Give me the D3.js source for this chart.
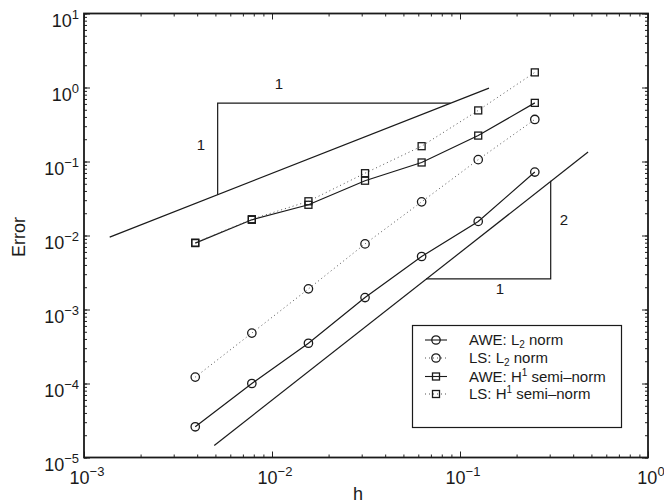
<!DOCTYPE html>
<html>
<head>
<meta charset="utf-8">
<script src="https://cdn.jsdelivr.net/npm/d3@7"></script>
<style>
  body { margin: 0; background: #fff; }
  svg { font-family: "Liberation Sans", Arial, sans-serif; }
  .tick text { display: none; }
  .axis path.domain { display: none; }
  .axis line { stroke: #222; stroke-width: 1; }
</style>
</head>
<body>
<svg width="664" height="503"></svg>
<script>
// mesh sizes h and errors
const hValues = [1/256, 1/128, 1/64, 1/32, 1/16, 1/8, 1/4];
const aweL2 = [2.6e-5, 1.0e-4, 3.5e-4, 1.45e-3, 5.2e-3, 1.55e-2, 7.2e-2];
const lsL2 = [1.22e-4, 4.8e-4, 1.9e-3, 7.7e-3, 2.85e-2, 0.106, 0.37];
const aweH1 = [7.9e-3, 1.63e-2, 2.6e-2, 5.5e-2, 9.7e-2, 0.224, 0.62];
const lsH1 = [8.0e-3, 1.66e-2, 2.9e-2, 6.95e-2, 0.161, 0.49, 1.6];

// reference slope lines and triangles (h, error)
const slope1Line = [[1.37e-3, 9.5e-3], [0.1426, 0.98]];
const slope1Tri = [[5.14e-3, 0.0355], [5.14e-3, 0.614], [0.089, 0.614]];
const slope2Line = [[4.93e-3, 1.45e-5], [0.48, 0.134]];
const slope2Tri = [[0.066, 2.6e-3], [0.3037, 2.6e-3], [0.3037, 0.055]];

const xTickExp = [-3, -2, -1, 0];
const yTickExp = [1, 0, -1, -2, -3, -4, -5];

const series = [
  {name: 'AWE: L', sub: '2', rest: ' norm', values: aweL2, dash: null, marker: 'circle'},
  {name: 'LS: L', sub: '2', rest: ' norm', values: lsL2, dash: '1,3', marker: 'circle'},
  {name: 'AWE: H', sup: '1', rest: ' semi\u2013norm', values: aweH1, dash: null, marker: 'square'},
  {name: 'LS: H', sup: '1', rest: ' semi\u2013norm', values: lsH1, dash: '1,3', marker: 'square'},
];

const pLeft = 84, pRight = 648, pTop = 13.5, pBottom = 457.5;
const x = d3.scaleLog().domain([1e-3, 1]).range([pLeft, pRight]);
const y = d3.scaleLog().domain([1e-5, 10]).range([pBottom, pTop]);

const svg = d3.select('svg');
const ink = '#1a1a1a';

// ticks (inward, on all four sides)
function ticks(axisFn, scale, pos, size, tv) {
  svg.append('g').attr('class', 'axis')
    .attr('transform', pos)
    .call(axisFn(scale).tickValues(tv).tickSizeInner(size).tickSizeOuter(0));
}
const xMinor = x.ticks(), yMinor = y.ticks();
const xMajor = xTickExp.map(e => Math.pow(10, e));
const yMajor = yTickExp.map(e => Math.pow(10, e));
ticks(d3.axisBottom, x, `translate(0,${pBottom})`, -3, xMinor);
ticks(d3.axisBottom, x, `translate(0,${pBottom})`, -6, xMajor);
ticks(d3.axisTop, x, `translate(0,${pTop})`, -3, xMinor);
ticks(d3.axisTop, x, `translate(0,${pTop})`, -6, xMajor);
ticks(d3.axisLeft, y, `translate(${pLeft},0)`, -3, yMinor);
ticks(d3.axisLeft, y, `translate(${pLeft},0)`, -6, yMajor);
ticks(d3.axisRight, y, `translate(${pRight},0)`, -3, yMinor);
ticks(d3.axisRight, y, `translate(${pRight},0)`, -6, yMajor);

// frame
svg.append('rect')
  .attr('x', pLeft).attr('y', pTop)
  .attr('width', pRight - pLeft).attr('height', pBottom - pTop)
  .attr('fill', 'none').attr('stroke', ink).attr('stroke-width', 1.8);

// tick labels with exponents
function expLabel(xp, yp, e, anchor) {
  const t = svg.append('text')
    .attr('x', xp).attr('y', yp)
    .attr('text-anchor', anchor)
    .attr('font-size', 18).attr('fill', ink);
  t.append('tspan').text('10');
  t.append('tspan').attr('font-size', 13).attr('dy', -8)
    .text(e < 0 ? '\u2212' + (-e) : String(e));
}
xTickExp.forEach(e => expLabel(x(Math.pow(10, e)) + 3, pBottom + 26, e, 'middle'));
yTickExp.forEach(e => expLabel(pLeft - 5, y(Math.pow(10, e)) + 13, e, 'end'));

// axis titles
svg.append('text').attr('x', 358).attr('y', 500)
  .attr('text-anchor', 'middle').attr('font-size', 18).attr('fill', ink).text('h');
svg.append('text')
  .attr('transform', 'translate(25,237) rotate(-90)')
  .attr('text-anchor', 'middle').attr('font-size', 18).attr('fill', ink).text('Error');

// reference lines and triangles
const path = d3.line().x(d => x(d[0])).y(d => y(d[1]));
[slope1Line, slope1Tri, slope2Line, slope2Tri].forEach(p => {
  svg.append('path').attr('d', path(p))
    .attr('fill', 'none').attr('stroke', ink).attr('stroke-width', 1.2);
});
function note(xp, yp, s) {
  svg.append('text').attr('x', xp).attr('y', yp)
    .attr('text-anchor', 'middle').attr('font-size', 15).attr('fill', ink).text(s);
}
note(279, 89, '1');
note(201, 150, '1');
note(564, 225, '2');
note(500, 294, '1');

// markers
function drawMarker(g, type, cx, cy) {
  if (type === 'circle') {
    g.append('circle').attr('cx', cx).attr('cy', cy).attr('r', 4.2)
      .attr('fill', 'none').attr('stroke', ink).attr('stroke-width', 1.3);
  } else {
    g.append('rect').attr('x', cx - 3.5).attr('y', cy - 3.5)
      .attr('width', 7).attr('height', 7)
      .attr('fill', 'none').attr('stroke', ink).attr('stroke-width', 1.3);
  }
}

// data series
series.forEach(s => {
  const pts = hValues.map((h, i) => [h, s.values[i]]);
  const g = svg.append('g');
  g.append('path').attr('d', path(pts))
    .attr('fill', 'none')
    .attr('stroke', s.dash ? '#555' : ink)
    .attr('stroke-width', s.dash ? 1 : 1.2)
    .attr('stroke-dasharray', s.dash);
  pts.forEach(p => drawMarker(g, s.marker, x(p[0]), y(p[1])));
});

// legend
const lg = svg.append('g');
lg.append('rect').attr('x', 412.5).attr('y', 325.5).attr('width', 209).attr('height', 102)
  .attr('fill', '#fff').attr('stroke', ink).attr('stroke-width', 1.2);
const rows = [340, 358, 376.5, 394];
series.forEach((s, i) => {
  const ry = rows[i];
  lg.append('line').attr('x1', 425).attr('x2', 447).attr('y1', ry).attr('y2', ry)
    .attr('stroke', s.dash ? '#555' : ink).attr('stroke-width', 1.1)
    .attr('stroke-dasharray', s.dash);
  drawMarker(lg, s.marker, 436, ry);
  const t = lg.append('text').attr('x', 469).attr('y', ry + 5)
    .attr('font-size', 15).attr('fill', ink);
  t.append('tspan').text(s.name);
  if (s.sub) {
    t.append('tspan').attr('font-size', 10).attr('dy', 3).text(s.sub);
    t.append('tspan').attr('dy', -3).text(s.rest);
  } else {
    t.append('tspan').attr('font-size', 10).attr('dy', -6).text(s.sup);
    t.append('tspan').attr('dy', 6).text(s.rest);
  }
});
</script>
</body>
</html>
